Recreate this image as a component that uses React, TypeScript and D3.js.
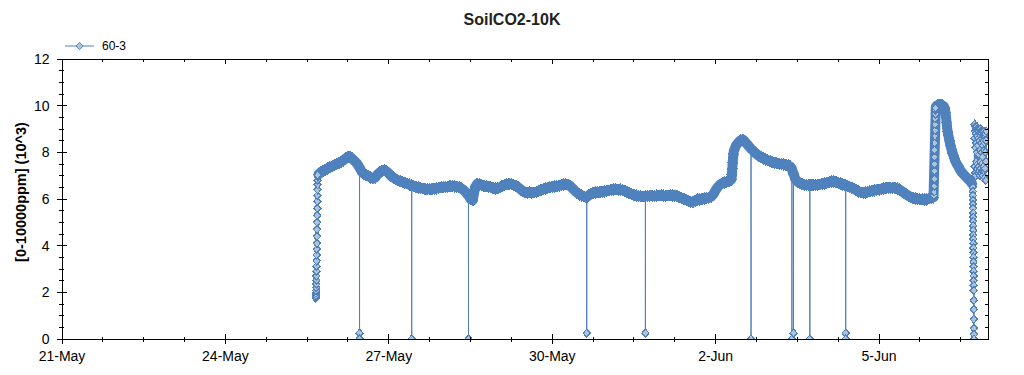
import React, { useMemo } from 'react';
import * as d3 from 'd3';

const title = 'SoilCO2-10K';
const yTitle = '[0-10000ppm] (10^3)';
const seriesName = '60-3';
const xStart = '2015-05-21T00:00';
const xEnd = '2015-06-07T00:00';
const yMax = 12;

// hourly readings (10^3 ppm), one array per day
const may25 = [7.05, 7.15, 7.2, 7.25, 7.3, 7.36, 7.4];
const may26 = [7.45, 7.5, 7.53, 7.6, 7.66, 7.74, 7.8, 7.8, 7.72, 7.62, 7.52, 7.35, 7.18, 7.08, 7.02, 6.98, 6.92, 6.88, 6.92, 7.05, 7.14, 7.2, 7.24, 7.18];
const may27 = [7.1, 6.98, 6.92, 6.86, 6.8, 6.76, 6.72, 6.7, 6.66, 6.62, 6.58, 6.55, 6.52, 6.5, 6.47, 6.45, 6.43, 6.42, 6.42, 6.42, 6.44, 6.46, 6.48, 6.5];
const may28 = [6.5, 6.52, 6.53, 6.55, 6.55, 6.54, 6.53, 6.5, 6.45, 6.38, 6.28, 6.15, 6.0, 5.95, 6.5, 6.65, 6.62, 6.58, 6.56, 6.55, 6.52, 6.5, 6.47, 6.44];
const may29 = [6.46, 6.5, 6.56, 6.6, 6.63, 6.65, 6.64, 6.6, 6.56, 6.5, 6.42, 6.34, 6.28, 6.26, 6.3, 6.26, 6.28, 6.3, 6.35, 6.38, 6.42, 6.44, 6.48, 6.5];
const may30 = [6.52, 6.53, 6.55, 6.57, 6.6, 6.62, 6.63, 6.62, 6.55, 6.45, 6.35, 6.26, 6.2, 6.15, 6.1, 6.08, 6.15, 6.22, 6.26, 6.28, 6.29, 6.3, 6.31, 6.33];
const may31 = [6.35, 6.37, 6.39, 6.4, 6.41, 6.4, 6.4, 6.38, 6.34, 6.3, 6.25, 6.21, 6.18, 6.15, 6.13, 6.12, 6.11, 6.12, 6.13, 6.14, 6.14, 6.13, 6.14, 6.15];
const jun01 = [6.15, 6.14, 6.14, 6.15, 6.16, 6.15, 6.14, 6.12, 6.08, 6.04, 6.0, 5.97, 5.92, 5.87, 5.88, 5.93, 5.97, 5.98, 6.0, 6.02, 6.04, 6.05, 6.1, 6.2];
const jun02 = [6.38, 6.52, 6.62, 6.68, 6.71, 6.74, 6.76, 6.85, 8.05, 8.3, 8.42, 8.52, 8.55, 8.45, 8.33, 8.22, 8.12, 8.02, 7.93, 7.85, 7.8, 7.74, 7.7, 7.66];
const jun03 = [7.62, 7.58, 7.55, 7.53, 7.51, 7.5, 7.48, 7.46, 7.44, 7.38, 7.12, 6.88, 6.75, 6.68, 6.64, 6.62, 6.6, 6.6, 6.59, 6.6, 6.6, 6.61, 6.62, 6.65];
const jun04 = [6.67, 6.7, 6.72, 6.74, 6.75, 6.73, 6.7, 6.66, 6.62, 6.6, 6.56, 6.52, 6.49, 6.44, 6.38, 6.32, 6.28, 6.27, 6.28, 6.3, 6.33, 6.35, 6.38, 6.4];
const jun05 = [6.4, 6.43, 6.45, 6.47, 6.48, 6.48, 6.48, 6.47, 6.45, 6.4, 6.34, 6.26, 6.2, 6.13, 6.08, 6.05, 6.02, 6.0, 5.99, 5.98, 5.97, 5.98, 6.02, 6.06];
const jun06 = [6.08];
const jun06Late = [7.08, 6.98, 6.88, 6.78, 6.65];

const hourlyBlocks: [string, number, number[]][] = [
  ['2015-05-25', 17, may25],
  ['2015-05-26', 0, may26],
  ['2015-05-27', 0, may27],
  ['2015-05-28', 0, may28],
  ['2015-05-29', 0, may29],
  ['2015-05-30', 0, may30],
  ['2015-05-31', 0, may31],
  ['2015-06-01', 0, jun01],
  ['2015-06-02', 0, jun02],
  ['2015-06-03', 0, jun03],
  ['2015-06-04', 0, jun04],
  ['2015-06-05', 0, jun05],
  ['2015-06-06', 0, jun06],
  ['2015-06-06', 13, jun06Late],
];

// fast sampled stretches: start, minutes per sample, values
const riseMay25 = [1.75, 1.8, 1.88, 1.97, 2.08, 2.2, 2.35, 2.52, 2.7, 2.9, 3.12, 3.35, 3.6, 3.85, 4.1, 4.4, 4.7, 5.0, 5.3, 5.6, 5.9, 6.15, 6.4, 6.62, 6.8, 6.95, 7.02];
const riseJun02 = [7.05, 7.3, 7.55, 7.75, 7.92];
const riseJun06 = [6.15, 6.3, 6.55, 6.85, 7.2, 7.5, 7.8, 8.1, 8.4, 8.7, 8.95, 9.2, 9.45, 9.65, 9.8, 9.9];
const peakJun06 = [
  9.95, 9.98, 10.0, 10.02,
  10.02, 10.03, 10.03, 10.03,
  10.03, 10.03, 10.02, 10.02,
  10.0, 9.99, 9.97, 9.93,
  9.85, 9.72, 9.52, 9.28,
  9.05, 8.88, 8.74, 8.62,
  8.5, 8.39, 8.28, 8.19,
  8.1, 8.02, 7.94, 7.87,
  7.8, 7.73, 7.66, 7.6,
  7.55, 7.5, 7.46, 7.42,
  7.38, 7.33, 7.29, 7.24,
  7.2,
];
const fallJun06 = [6.5, 6.32, 6.15, 5.95, 5.78, 5.6, 5.4, 5.22, 5.05, 4.85, 4.66, 4.45, 4.28, 4.1, 3.9, 3.7, 3.5, 3.3, 3.1, 2.9, 2.7, 2.5, 2.3, 2.08, 1.66, 1.27, 0.85, 0.46, 0.2, 0];
const noiseJun06 = [8.6, 9.2, 7.4, 8.9, 7.1, 9.1, 8.2, 7.0, 8.8, 9.0, 7.6, 8.4, 7.2, 9.1, 8.0, 7.3, 8.7, 9.0, 7.5, 8.3, 7.1, 8.9, 8.6, 7.4, 9.0, 7.9, 7.2, 8.5, 8.8, 7.0, 8.1, 9.0, 7.6, 8.7, 7.3, 8.4, 8.9, 7.1, 8.0, 8.8, 7.5, 8.6, 7.2, 8.9, 7.8, 8.3, 7.0, 8.7, 8.5, 7.4, 8.9, 7.2, 8.1, 8.8, 6.9, 8.4, 8.7, 7.3, 8.0, 8.8, 6.8, 8.5, 7.6, 8.9];

// start, minutes per sample, values, drawn as part of the dense band or as loose markers
const bursts: [string, number, number[], boolean][] = [
  ['2015-05-25T15:50', 2, riseMay25, false],
  ['2015-06-02T07:10', 10, riseJun02, true],
  ['2015-06-06T00:12', 3, riseJun06, false],
  ['2015-06-06T01:00', 15, peakJun06, true],
  ['2015-06-06T17:20', 1, fallJun06, false],
  ['2015-06-06T18:00', 5, noiseJun06, false],
];

// sensor dropouts: time, level just before, readings during the dropout
const dropTimes = ['2015-05-26T11:06', '2015-05-27T10:05', '2015-05-28T11:06', '2015-05-30T15:12', '2015-05-31T17:03', '2015-06-02T15:36', '2015-06-03T09:36', '2015-06-03T10:18', '2015-06-03T17:30', '2015-06-04T09:18'];
const dropBand = [7.35, 6.58, 6.15, 6.08, 6.12, 8.15, 7.3, 7.1, 6.6, 6.6];
const dropLows = [[0.25, 0], [0], [0], [0.25], [0.25], [0], [0], [0.25], [0], [0.25, 0]];

type Pt = { t: Date; v: number; band: boolean };

const parse = d3.timeParse('%Y-%m-%dT%H:%M');

function buildPoints(): Pt[] {
  const pts: Pt[] = [];
  hourlyBlocks.forEach(([day, h0, vals]) => {
    const base = parse(day + 'T00:00')!;
    vals.forEach((v, i) => pts.push({ t: d3.timeHour.offset(base, h0 + i), v, band: true }));
  });
  bursts.forEach(([start, step, vals, band]) => {
    const s = parse(start)!;
    vals.forEach((v, i) => pts.push({ t: d3.timeMinute.offset(s, i * step), v, band }));
  });
  dropTimes.forEach((ts, i) => {
    const t = parse(ts)!;
    pts.push({ t: d3.timeMinute.offset(t, -1), v: dropBand[i], band: true });
    dropLows[i].forEach((v, j) => pts.push({ t: d3.timeSecond.offset(t, j * 20), v, band: false }));
    pts.push({ t: d3.timeMinute.offset(t, 1), v: dropBand[i], band: true });
  });
  return pts.sort((a, b) => +a.t - +b.t);
}

const W = 1024;
const H = 375;
const plot = { left: 62, right: 988, top: 59, bottom: 339 };
const blue = '#4f81bd';
const markerFill = '#afc3d8';
const font = "'Liberation Sans', Arial, sans-serif";

export default function App() {
  const pts = useMemo(buildPoints, []);
  const bandPts = pts.filter(d => d.band);
  const loosePts = pts.filter(d => !d.band);
  const x0 = parse(xStart)!;
  const x = d3.scaleTime().domain([x0, parse(xEnd)!]).range([plot.left, plot.right]);
  const y = d3.scaleLinear().domain([0, yMax]).range([plot.bottom, plot.top]);
  const line = d3.line<Pt>().x(d => x(d.t)).y(d => y(d.v));
  const bandDiamond = 'M0,-4.4L3.8,0L0,4.4L-3.8,0Z';
  const diamond = 'M0,-4L3.6,0L0,4L-3.6,0Z';
  const legendDiamond = 'M0,-3.6L3.6,0L0,3.6L-3.6,0Z';

  const majorX = d3.range(0, 16, 3).map(d => d3.timeDay.offset(x0, d));
  const minorX = d3.range(0, 17 * 24 + 1, 18).filter(h => h % 72 !== 0).map(h => d3.timeHour.offset(x0, h));
  const majorY = d3.range(0, yMax + 1, 2);
  const minorY = d3.range(0, yMax + 0.01, 0.5).filter(v => v % 2 !== 0);
  const fmt = d3.timeFormat('%-d-%b');

  return (
    <svg width={W} height={H} style={{ position: 'absolute', left: 0, top: 0, background: '#fff' }} fontFamily={font}>
      <defs>
        <clipPath id="plotClip">
          <rect x={plot.left} y={plot.top} width={plot.right - plot.left} height={plot.bottom - plot.top} />
        </clipPath>
      </defs>
      <text x={512} y={25} textAnchor="middle" fontSize={16} fontWeight="bold" fill="#222">{title}</text>

      <g clipPath="url(#plotClip)">
        {/* markers logged every few minutes merge into a solid ribbon */}
        <path d={line(bandPts) ?? ''} fill="none" stroke={blue} strokeWidth={10} strokeLinejoin="round" strokeLinecap="round" />
        <path d={line(pts) ?? ''} fill="none" stroke={blue} strokeWidth={1} />
        <g shapeRendering="crispEdges">
          {bandPts.map((d, i) => (
            <path key={'b' + i} d={bandDiamond} transform={`translate(${x(d.t)},${y(d.v)})`} fill={blue} stroke={blue} strokeWidth={2.6} />
          ))}
          {loosePts.map((d, i) => (
            <path key={'l' + i} d={diamond} transform={`translate(${x(d.t)},${y(d.v)})`} fill={markerFill} stroke={blue} strokeWidth={1.2} />
          ))}
        </g>
      </g>

      <g stroke="#000" strokeWidth={1} shapeRendering="crispEdges">
        <rect x={plot.left} y={plot.top} width={plot.right - plot.left} height={plot.bottom - plot.top} fill="none" />
        {majorX.map((d, i) => (
          <g key={'mx' + i}>
            <line x1={x(d)} x2={x(d)} y1={plot.bottom - 5} y2={plot.bottom + 5} />
            <line x1={x(d)} x2={x(d)} y1={plot.top} y2={plot.top + 5} />
          </g>
        ))}
        {minorX.map((d, i) => (
          <g key={'nx' + i}>
            <line x1={x(d)} x2={x(d)} y1={plot.bottom - 2} y2={plot.bottom + 3} />
            <line x1={x(d)} x2={x(d)} y1={plot.top} y2={plot.top + 3} />
          </g>
        ))}
        {majorY.map((v, i) => (
          <g key={'my' + i}>
            <line x1={plot.left - 5} x2={plot.left + 5} y1={y(v)} y2={y(v)} />
            <line x1={plot.right - 5} x2={plot.right} y1={y(v)} y2={y(v)} />
          </g>
        ))}
        {minorY.map((v, i) => (
          <g key={'ny' + i}>
            <line x1={plot.left - 3} x2={plot.left + 2} y1={y(v)} y2={y(v)} />
            <line x1={plot.right - 3} x2={plot.right} y1={y(v)} y2={y(v)} />
          </g>
        ))}
      </g>

      <g fontSize={14} fill="#000">
        {majorX.map((d, i) => (
          <text key={i} x={x(d)} y={361} textAnchor="middle">{fmt(d)}</text>
        ))}
        {majorY.map((v, i) => (
          <text key={i} x={49.5} y={y(v)} dy="0.36em" textAnchor="end">{v}</text>
        ))}
      </g>

      <text transform="translate(26,192) rotate(-90)" textAnchor="middle" fontSize={14.5} fontWeight="bold" fill="#000">{yTitle}</text>

      <g>
        <line x1={65} x2={94} y1={46} y2={46} stroke={blue} strokeWidth={1} />
        <path d={legendDiamond} transform="translate(79.5,46)" fill={markerFill} stroke={blue} strokeWidth={1} />
        <text x={102} y={50} fontSize={12} fill="#000">{seriesName}</text>
      </g>
    </svg>
  );
}
